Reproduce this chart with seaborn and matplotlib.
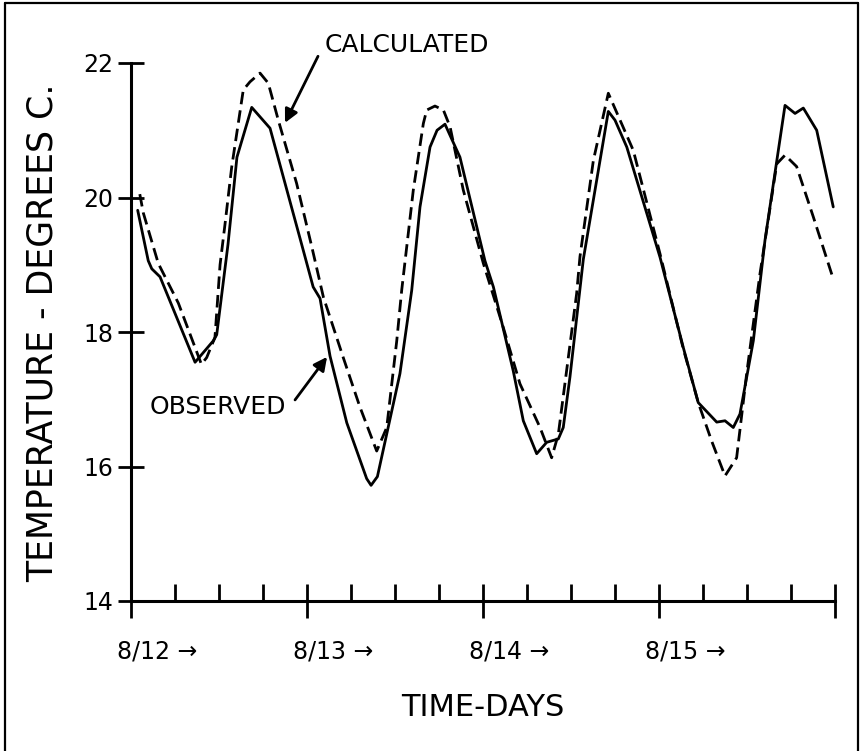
import numpy as np
import pandas as pd
import matplotlib
matplotlib.use("Agg")
import matplotlib.pyplot as plt
import seaborn as sns
from matplotlib.lines import Line2D

# ---- data (x in days from 8/12 00h, y in deg C) ----
obs_day = [0.038, 0.098, 0.118, 0.165, 0.364, 0.468, 0.487, 0.551, 0.602, 0.686,
           0.790, 0.970, 1.035, 1.074, 1.131, 1.226, 1.339, 1.364, 1.400, 1.528,
           1.595, 1.642, 1.699, 1.739, 1.784, 1.869, 2.011, 2.059, 2.172, 2.229,
           2.305, 2.362, 2.428, 2.456, 2.494, 2.570, 2.712, 2.750, 2.817, 3.006,
           3.138, 3.223, 3.328, 3.375, 3.422, 3.460, 3.536, 3.602, 3.716, 3.773,
           3.820, 3.896, 3.990]
obs_temp = [19.81, 19.06, 18.94, 18.82, 17.55, 17.87, 17.96, 19.30, 20.60, 21.34,
            21.03, 19.30, 18.67, 18.50, 17.64, 16.65, 15.82, 15.72, 15.85, 17.38,
            18.62, 19.86, 20.75, 21.00, 21.09, 20.60, 19.06, 18.67, 17.42, 16.68,
            16.19, 16.36, 16.41, 16.58, 17.33, 19.08, 21.28, 21.15, 20.75, 19.11,
            17.77, 16.95, 16.66, 16.68, 16.58, 16.78, 17.87, 19.36, 21.37, 21.25,
            21.33, 21.00, 19.86]

calc_day = [0.050, 0.070, 0.155, 0.269, 0.400, 0.430, 0.477, 0.506, 0.534, 0.572,
            0.638, 0.676, 0.733, 0.780, 0.837, 0.941, 1.027, 1.093, 1.206, 1.300,
            1.396, 1.453, 1.510, 1.538, 1.604, 1.661, 1.680, 1.727, 1.775, 1.813,
            1.888, 2.002, 2.115, 2.210, 2.324, 2.390, 2.428, 2.532, 2.551, 2.627,
            2.712, 2.854, 3.006, 3.136, 3.223, 3.299, 3.375, 3.441, 3.498, 3.574,
            3.669, 3.716, 3.782, 3.877, 3.990]
calc_temp = [20.05, 19.77, 19.02, 18.43, 17.52, 17.62, 17.92, 19.00, 19.60, 20.45,
             21.60, 21.72, 21.85, 21.70, 21.15, 20.21, 19.27, 18.52, 17.62, 16.89,
             16.23, 16.58, 17.87, 18.62, 20.11, 21.10, 21.30, 21.36, 21.30, 21.05,
             20.11, 19.02, 18.07, 17.23, 16.58, 16.13, 16.48, 18.57, 19.12, 20.55,
             21.55, 20.70, 19.16, 17.77, 16.95, 16.38, 15.86, 16.13, 17.38, 18.87,
             20.50, 20.63, 20.46, 19.71, 18.79]

y_ticks = [14, 16, 18, 20, 22]
day_ticks = [0, 1, 2, 3, 4]
day_labels = ["8/12", "8/13", "8/14", "8/15"]

sns.set_style("ticks")
plt.rcParams['font.family'] = ['DejaVu Sans']
plt.rcParams.update({"text.color": "black", "axes.labelcolor": "black",
                     "xtick.color": "black", "ytick.color": "black",
                     "axes.edgecolor": "black"})

fig = plt.figure(figsize=(8.63, 7.51), dpi=100)
W, H = 863.0, 751.0
ax = fig.add_axes([131 / W, 1 - 601 / H, 704 / W, 538 / H])

obs_df = pd.DataFrame({"day": obs_day, "temp": obs_temp})
calc_df = pd.DataFrame({"day": calc_day, "temp": calc_temp})
sns.lineplot(data=obs_df, x="day", y="temp", ax=ax, color="black", lw=2.0,
             sort=False, estimator=None)
sns.lineplot(data=calc_df, x="day", y="temp", ax=ax, color="black", lw=2.0,
             sort=False, estimator=None)
ax.lines[-1].set_linestyle((0, (4.5, 2.2)))

ax.set_xlim(0, 4)
ax.set_ylim(14, 22)
for s in ["top", "right"]:
    ax.spines[s].set_visible(False)
for s in ["left", "bottom"]:
    ax.spines[s].set_linewidth(2.2)
    ax.spines[s].set_color("black")

ax.set_yticks(y_ticks)
ax.set_yticklabels([str(v) for v in y_ticks])
ax.set_xticks(day_ticks)
ax.set_xticklabels([""] * len(day_ticks))
ax.set_xticks(np.arange(0, 4.01, 0.25), minor=True)
ax.tick_params(axis='y', which='major', direction='inout', length=19, width=2.0,
               labelsize=17, pad=3, left=True, colors='black')
ax.tick_params(axis='x', which='major', direction='inout', length=24, width=2.0,
               bottom=True, colors='black')
ax.tick_params(axis='x', which='minor', direction='in', length=12, width=2.0,
               bottom=True, colors='black')

for d, lab in zip(day_ticks, day_labels):
    ax.text(d - 0.08, 13.25, lab + " \u2192", ha='left', va='center',
            fontsize=17, clip_on=False, color='black')

ax.set_xlabel("TIME-DAYS", fontsize=22, color='black')
ax.xaxis.set_label_coords(0.5, -(708 - 601) / 538)
ax.xaxis.label.set_va('center')
ax.set_ylabel("TEMPERATURE - DEGREES C.", fontsize=25, color='black')
ax.yaxis.set_label_coords(-(131 - 43) / 704, (601 - 333) / 538)
ax.yaxis.label.set_va('center')

# annotations
ax.text(1.102, 22.27, "CALCULATED", ha='left', va='center', fontsize=18,
        color='black', clip_on=False)
ax.annotate("", xy=(0.875, 21.11), xytext=(1.0625, 22.10),
            arrowprops=dict(arrowstyle='-|>', color='black', lw=2,
                            mutation_scale=20, shrinkA=0, shrinkB=0),
            annotation_clip=False)
ax.text(0.108, 16.89, "OBSERVED", ha='left', va='center', fontsize=18,
        color='black')
ax.annotate("", xy=(1.114, 17.63), xytext=(0.932, 16.99),
            arrowprops=dict(arrowstyle='-|>', color='black', lw=2,
                            mutation_scale=20, shrinkA=0, shrinkB=0))

# outer frame (left, top, right)
fig.add_artist(Line2D([5 / W, 5 / W], [0, 1 - 3 / H], color='black', lw=1.6))
fig.add_artist(Line2D([5 / W, 858 / W], [1 - 3 / H, 1 - 3 / H], color='black', lw=1.6))
fig.add_artist(Line2D([858 / W, 858 / W], [0, 1 - 3 / H], color='black', lw=1.6))

fig.savefig("out.png", dpi=100)
